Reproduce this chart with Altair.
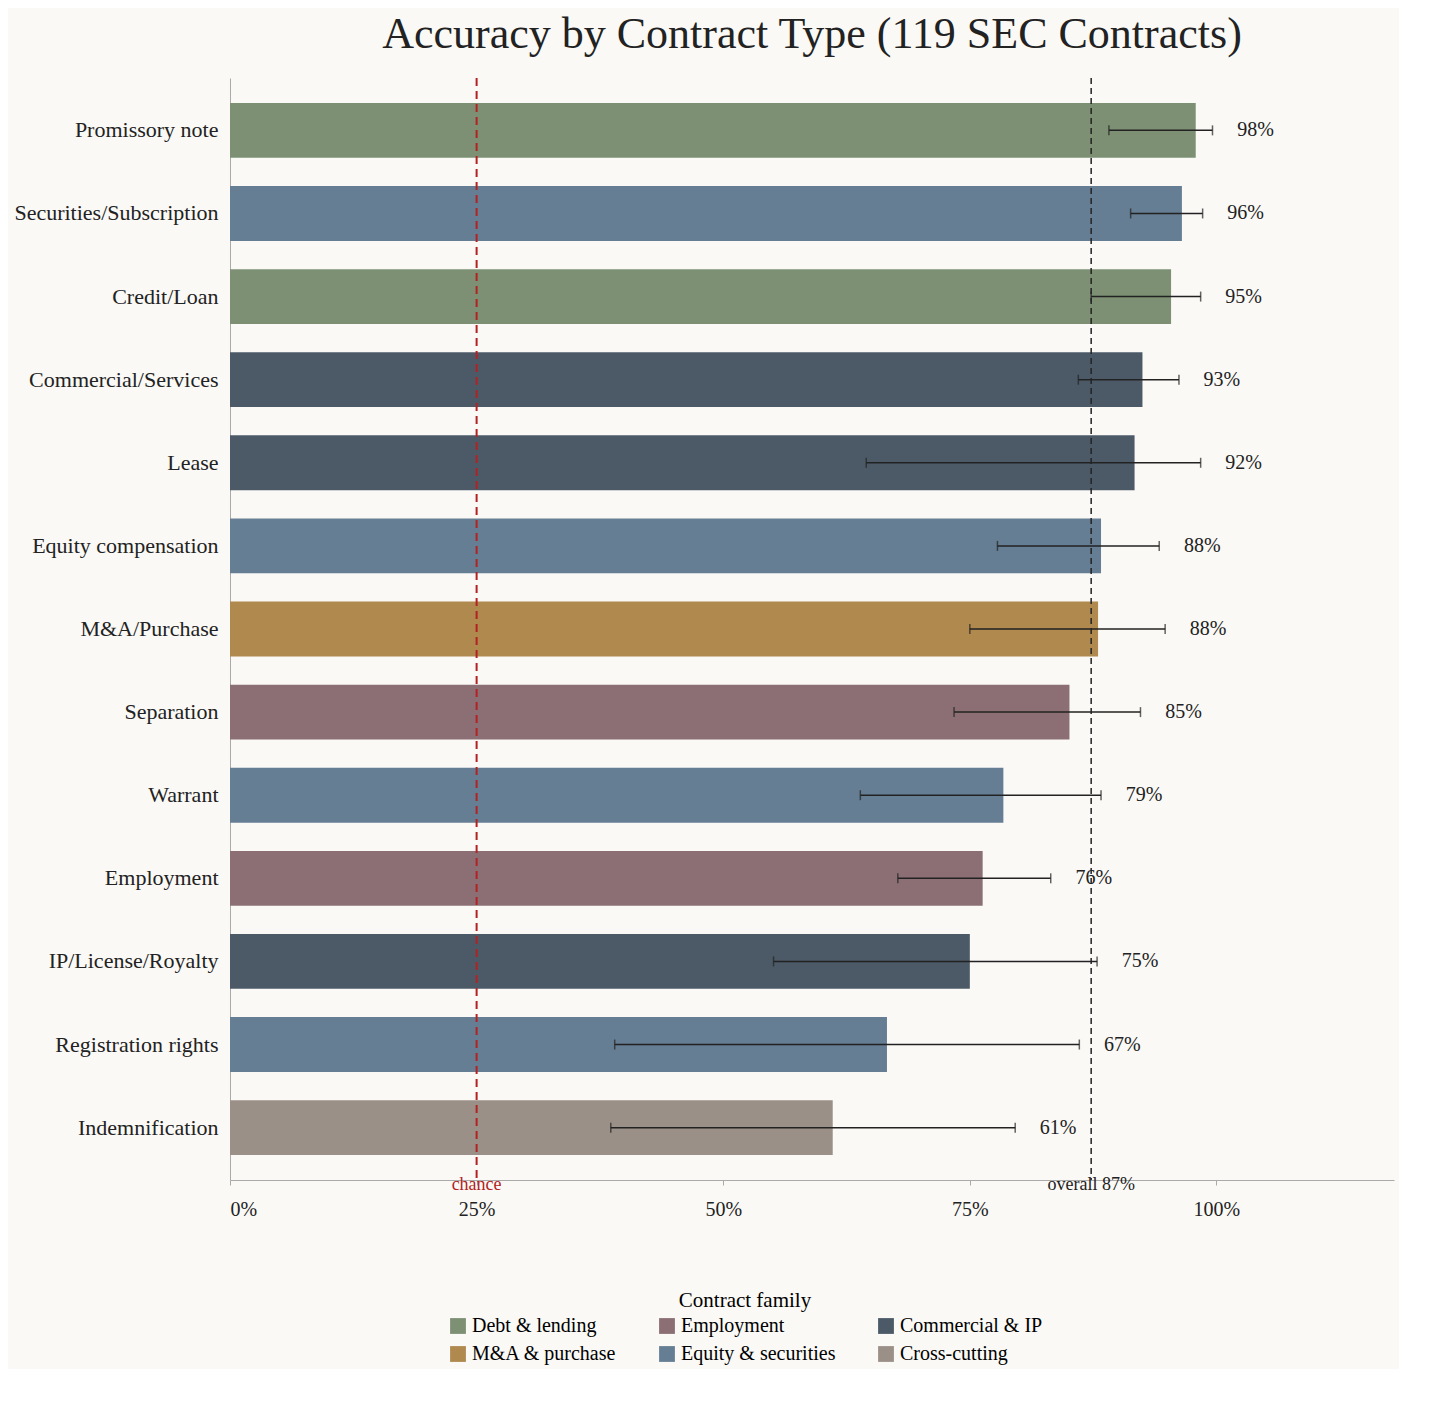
import altair as alt
import pandas as pd

types = ["Promissory note","Securities/Subscription","Credit/Loan","Commercial/Services","Lease",
         "Equity compensation","M&A/Purchase","Separation","Warrant","Employment",
         "IP/License/Royalty","Registration rights","Indemnification"]
acc = [97.9,96.5,95.4,92.5,91.7,88.3,88.0,85.1,78.4,76.3,75.0,66.6,61.1]
lo = [89.1,91.3,87.3,86.0,64.5,77.8,75.0,73.4,63.9,67.7,55.1,39.0,38.6]
hi = [99.6,98.6,98.4,96.2,98.4,94.2,94.8,92.3,88.3,83.2,87.9,86.1,79.6]
labels = ["98%","96%","95%","93%","92%","88%","88%","85%","79%","76%","75%","67%","61%"]
family = ["Debt & lending","Equity & securities","Debt & lending","Commercial & IP","Commercial & IP",
          "Equity & securities","M&A & purchase","Employment","Equity & securities","Employment",
          "Commercial & IP","Equity & securities","Cross-cutting"]
fam_order = ["Debt & lending","M&A & purchase","Employment","Equity & securities","Commercial & IP","Cross-cutting"]
fam_colors = ["#7d9074","#b0894f","#8b6f75","#667e93","#4c5a68","#9b9087"]
chance = 25
overall = 87.3

df = pd.DataFrame({"type":types,"acc":acc,"lo":lo,"hi":hi,"label":labels,"family":family})
df["lx"] = df["hi"] + 2.5

FONT = "Liberation Serif"
W, H = 1164, 1102
xs = alt.Scale(domain=[0,118], nice=False)
ys = alt.Scale(domain=types, paddingInner=0.34, paddingOuter=0.3)
Y = alt.Y("type:N", scale=ys, sort=types)

base = alt.Chart(df)
bars = base.mark_bar().encode(
    y=alt.Y("type:N", scale=ys, sort=types, title=None,
            axis=alt.Axis(ticks=False, labelFontSize=22, labelFont=FONT, labelColor="#222",
                          domainColor="#aaa", labelPadding=12, labelLimit=400)),
    x=alt.X("acc:Q", scale=xs, title=None,
            axis=alt.Axis(values=[0,25,50,75,100], labelExpr="datum.value + '%'", grid=False,
                          labelFontSize=20, labelFont=FONT, labelColor="#222", labelPadding=14,
                          domainColor="#aaa", tickColor="#aaa")),
    color=alt.Color("family:N", scale=alt.Scale(domain=fam_order, range=fam_colors),
                    legend=alt.Legend(title="Contract family", orient="none", legendX=218, legendY=1212,
                                      columns=3, titleFont=FONT, titleFontSize=21, titleFontWeight="normal",
                                      titleAnchor="middle", labelFont=FONT, labelFontSize=20,
                                      symbolType="square", symbolSize=250, columnPadding=40,
                                      rowPadding=8, symbolStrokeWidth=0)),
)
err = base.mark_rule(color="#222", strokeWidth=1.5).encode(y=Y, x=alt.X("lo:Q", scale=xs), x2="hi:Q")
tlo = base.mark_tick(color="#222", size=10, thickness=1.5).encode(y=Y, x=alt.X("lo:Q", scale=xs))
thi = base.mark_tick(color="#222", size=10, thickness=1.5).encode(y=Y, x=alt.X("hi:Q", scale=xs))
txt = base.mark_text(align="left", font=FONT, fontSize=20, color="#222").encode(
    y=Y, x=alt.X("lx:Q", scale=xs), text="label:N")

ref = pd.DataFrame({"v":[chance, overall], "t":["chance","overall 87%"]})
chance_rule = alt.Chart(ref.iloc[[0]]).mark_rule(color="#b22222", strokeDash=[8,5], strokeWidth=2).encode(x=alt.X("v:Q", scale=xs))
over_rule = alt.Chart(ref.iloc[[1]]).mark_rule(color="#222", strokeDash=[6,4], strokeWidth=1.5).encode(x=alt.X("v:Q", scale=xs))
chance_txt = alt.Chart(ref.iloc[[0]]).mark_text(color="#b22222", font=FONT, fontSize=18, baseline="bottom").encode(
    x=alt.X("v:Q", scale=xs), y=alt.value(H+14), text="t:N")
over_txt = alt.Chart(ref.iloc[[1]]).mark_text(color="#222", font=FONT, fontSize=18, baseline="bottom").encode(
    x=alt.X("v:Q", scale=xs), y=alt.value(H+14), text="t:N")

chart = alt.layer(bars, err, tlo, thi, txt, chance_rule, over_rule, chance_txt, over_txt).properties(
    width=W, height=H,
    title=alt.TitleParams("Accuracy by Contract Type (119 SEC Contracts)", font=FONT, fontSize=44,
                          fontWeight="normal", color="#222", anchor="middle", offset=20)
).configure(background="#faf9f6").configure_view(stroke=None)

chart.save("out.html", embed_options={"renderer": "svg", "actions": False})
